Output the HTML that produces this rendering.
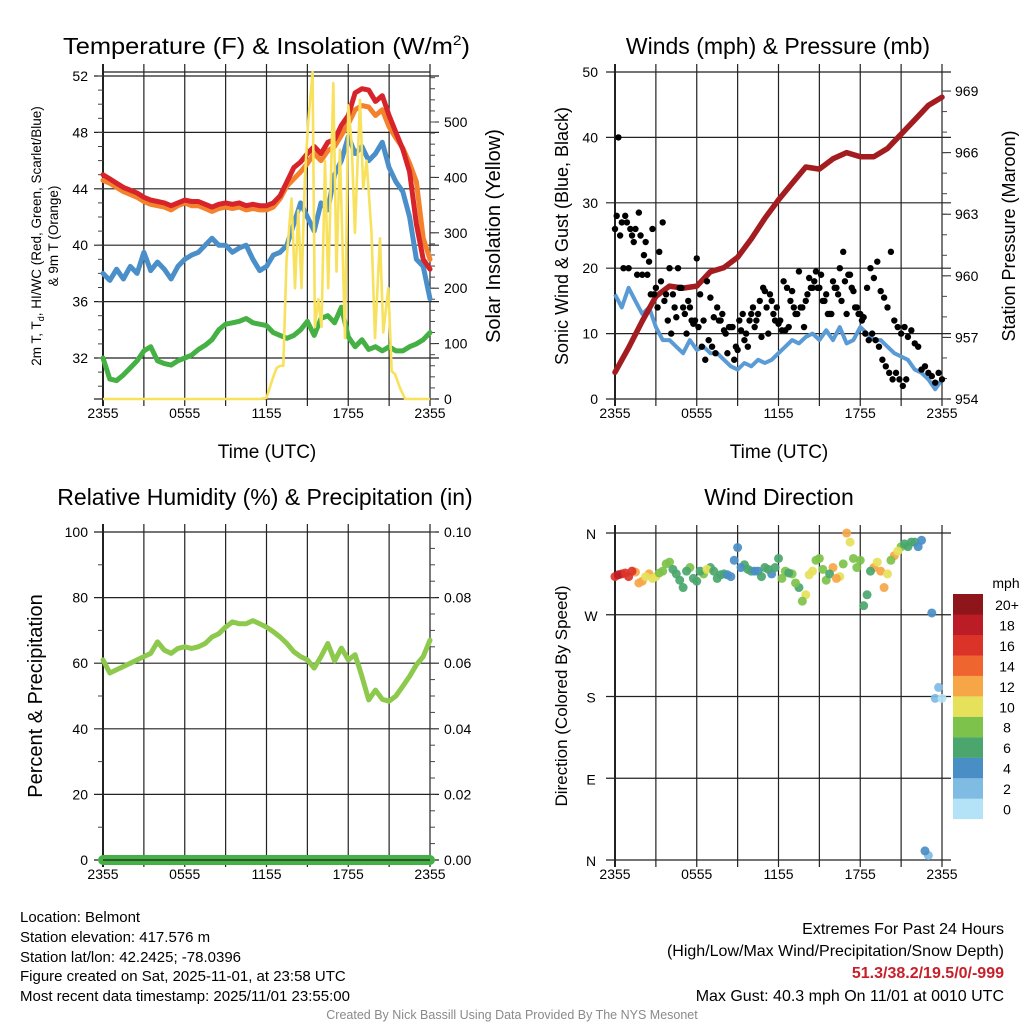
<!DOCTYPE html>
<html><head><meta charset="utf-8"><style>
html,body{margin:0;padding:0;background:#fff;}
svg{display:block;font-family:"Liberation Sans",Arial,sans-serif;}
</style></head><body>
<svg id="fig" width="1024" height="1024" viewBox="0 0 1024 1024" xmlns="http://www.w3.org/2000/svg">
<rect width="1024" height="1024" fill="#fff"/>
<g id="tl"></g>
<g id="tr"></g>
<g id="bl"></g>
<g id="br"></g>

<text x="63" y="54" font-size="23" textLength="407" lengthAdjust="spacingAndGlyphs">Temperature (F) &amp; Insolation (W/m<tspan dy="-9" font-size="14">2</tspan><tspan dy="9">)</tspan></text>
<text x="778" y="54" font-size="23" text-anchor="middle">Winds (mph) &amp; Pressure (mb)</text>
<text x="265" y="505" font-size="23" text-anchor="middle">Relative Humidity (%) &amp; Precipitation (in)</text>
<text x="779" y="505" font-size="23" text-anchor="middle">Wind Direction</text>

<text x="267" y="458" font-size="19" text-anchor="middle">Time (UTC)</text>
<text x="779" y="458" font-size="19" text-anchor="middle">Time (UTC)</text>

<text transform="translate(41,236) rotate(-90)" font-size="13.5" text-anchor="middle">2m T, T<tspan dy="3" font-size="9">d</tspan><tspan dy="-3">, HI/WC (Red, Green, Scarlet/Blue)</tspan></text>
<text transform="translate(58,236) rotate(-90)" font-size="13.5" text-anchor="middle">&amp; 9m T (Orange)</text>
<text transform="translate(500,236) rotate(-90)" font-size="20" text-anchor="middle">Solar Insolation (Yellow)</text>
<text transform="translate(568,236) rotate(-90)" font-size="18" text-anchor="middle">Sonic Wind &amp; Gust (Blue, Black)</text>
<text transform="translate(1015,236) rotate(-90)" font-size="18" text-anchor="middle">Station Pressure (Maroon)</text>
<text transform="translate(42,696) rotate(-90)" font-size="20" text-anchor="middle">Percent &amp; Precipitation</text>
<text transform="translate(567,696) rotate(-90)" font-size="17" text-anchor="middle">Direction (Colored By Speed)</text>

<g font-size="15">
<text x="20" y="922">Location: Belmont</text>
<text x="20" y="942">Station elevation: 417.576 m</text>
<text x="20" y="962">Station lat/lon: 42.2425; -78.0396</text>
<text x="20" y="981">Figure created on Sat, 2025-11-01, at 23:58 UTC</text>
<text x="20" y="1001">Most recent data timestamp: 2025/11/01 23:55:00</text>
</g>
<g font-size="16" text-anchor="end">
<text x="1004" y="934">Extremes For Past 24 Hours</text>
<text x="1004" y="956">(High/Low/Max Wind/Precipitation/Snow Depth)</text>
<text x="1004" y="978" fill="#c8202a" font-weight="bold">51.3/38.2/19.5/0/-999</text>
<text x="1004" y="1001">Max Gust: 40.3 mph On 11/01 at 0010 UTC</text>
</g>
<text x="512" y="1019" font-size="12.5" fill="#8a8a8a" text-anchor="middle">Created By Nick Bassill Using Data Provided By The NYS Mesonet</text>
</svg>
<script>
const xTickLabels=["2355","0555","1155","1755","2355"];
// half-hourly series (t = 0,0.5,...,24 hours since 2355)
const tempRed=[45.0,44.7,44.4,44.1,43.9,43.7,43.4,43.2,43.1,43.0,42.8,43.0,43.2,43.1,43.1,42.9,42.7,42.9,43.0,42.9,43.0,42.8,42.9,42.8,42.8,43.0,43.5,44.5,45.5,45.9,46.5,47.0,46.5,47.3,47.5,48.5,49.2,50.8,51.1,51.0,50.2,50.6,49.2,48.0,46.8,45.2,41.5,39.0,38.3];
const tempOrange=[44.6,44.4,44.1,43.8,43.6,43.4,43.1,42.9,42.8,42.7,42.5,42.8,43.0,42.8,42.8,42.6,42.4,42.6,42.7,42.6,42.7,42.5,42.6,42.5,42.5,42.7,43.3,44.2,44.7,45.2,45.8,46.5,46.0,46.7,47.0,47.8,48.6,49.6,49.9,49.8,49.2,49.6,48.4,47.6,46.9,45.8,44.5,40.5,39.0];
const tempBlue=[38.0,37.5,38.3,37.6,38.5,38.0,39.5,38.2,38.8,38.3,37.6,38.5,39.0,39.3,39.5,40.0,40.5,40.0,40.0,39.5,39.8,40.0,39.0,38.2,38.5,39.3,39.5,40.0,41.5,43.0,42.0,41.0,43.0,42.5,45.0,46.0,47.7,46.5,47.0,46.0,46.5,47.3,45.5,44.5,43.8,42.0,39.0,38.5,36.2];
const dewGreen=[32.0,30.5,30.4,30.8,31.3,31.8,32.5,32.8,31.8,31.6,31.5,31.8,32.0,32.2,32.6,32.9,33.3,34.0,34.4,34.5,34.6,34.8,34.5,34.4,34.3,33.8,33.6,33.4,33.6,34.0,34.6,33.6,34.8,35.0,34.5,35.6,33.5,32.8,33.3,32.6,32.8,32.5,32.8,32.5,32.5,32.8,33.0,33.3,33.8];
const solarHours=[0,11.5,12.0,12.5,12.74,13.0,13.23,13.47,13.84,14.09,14.33,14.57,14.82,15.06,15.38,15.55,15.80,16.04,16.29,16.53,16.90,17.14,17.39,17.76,18.0,18.25,18.49,18.86,19.10,19.35,19.71,19.96,20.33,20.57,20.94,21.19,21.43,21.80,22.17,24];
const solarVals=[0,0,2,40,56,60,60,250,362,200,340,200,400,500,590,130,180,130,430,200,570,230,450,110,530,460,300,540,380,430,300,110,290,120,200,50,45,20,0,0];
const windSpeed=[16,14,17,15,13,14,11,9,9,8,7,9,7.5,8,7,7,6,5,4.5,5.5,5,6,5.5,6,7,8,9,8.5,9.5,10,9,10.5,9,11,8.5,9,11,10,9,9,8,7,6.5,6,4.5,4,3,1.5,3];
const pressure=[955.3,956.5,957.8,959.0,959.5,959.4,959.5,960.2,960.4,960.9,961.8,962.8,963.7,964.5,965.3,965.2,965.7,966.0,965.8,965.8,966.2,966.9,967.6,968.3,968.7];
// gusts every 15 min, and offset set every 15 min starting 7.5 min
const gustA=[26,40,27,28,20,25,26,28.5,19,24,21,26,17,22.5,27,16,20,16,12.5,17,14,10,14,11.5,21.5,16,12,18,15.5,12.5,14,12,10.5,7,11,6,7.5,10.5,9,8,13,11,13,9.5,16.5,10,15,12,11.5,10.5,10.5,11,16.5,13,19.5,14,15,18.5,17,19.5,17,15,16,13,18,17,20,22.5,13,19,16.5,14,13,12.5,17,20,18.5,21,16.5,15.5,14,22.5,12,11,10,11,9.5,10.5,8.5,8,4.5,5,4,3.5,2.5,4,3];
const gustB=[28,25,20,27,26,24,19,25,22,19,16,16,14,18,15,12,10,14,20,17,13,15,12,12,11,8,6,9,8,7,12,13,10,11,11,8,12,13,10,12,14,12,15,17,14,16,13,14,12,18,17,15,14,13,14,11,16,17,18,17,19,15,13,13,17,16,15,18,19,17,14,13,12,10,9,10,9,8,6,5,4,3,4,3,2,3];
const humidity=[61,57,58,59,60,61,62,63,66.5,64,63,64.5,65,64.5,65,66,68,69,71,72.6,72,72,73,72,71,69.6,68,66,63.5,62,61,58.5,62,66,60.7,64.6,61,62.6,56,48.8,51.8,49,48.4,50,53,56,59.5,62,67,72,79,80,85].slice(0,49);
const precip=[0,0,0,0,0,0,0,0,0,0,0,0,0,0,0,0,0,0,0,0,0,0,0,0,0];
// wind direction: two samples per half hour (t=0.5i and 0.5i+0.25)
const dirA=[312,315,312,317,307,315,312,318,328,315,300,322,307,315,322,310,315,312,344,325,318,318,322,315,332,318,315,300,292,318,332,308,322,312,360,332,330,292,322,318,315,335,345,345,350,352,5,178,178];
const dirB=[314,316,318,305,312,310,316,326,320,308,318,310,318,320,318,314,314,330,322,320,318,312,320,322,310,316,305,285,314,330,320,315,310,326,350,322,280,318,328,300,330,340,348,350,345,10,272,190];
const spdA=[17,16,17,13,13,12,10,8,8,7,6,8,6,8,7,6,6,5,4,7,6,4,6,5,7,8,8,7,10,10,8,8,12,10,12,8,8,6,12,12,10,12,8,7,6,4,3,2,1];
const spdB=[18,17,16,12,11,10,9,8,7,7,6,7,7,10,6,6,5,4,5,6,5,6,7,6,8,7,9,8,11,9,8,7,13,9,11,9,6,7,11,13,9,10,7,6,5,4,4,2];
const cbColors=["#b4e2f6","#80bbe4","#4a8ec6","#4aa66c","#7dc24a","#e6e15a","#f6a646","#ef6530","#dc3328","#bc1c25","#8e1519"];
const cbLabels=["0","2","4","6","8","10","12","14","16","18","20+"];

const NS="http://www.w3.org/2000/svg";
function mk(parent,tag,attrs){const e=document.createElementNS(NS,tag);for(const k in attrs)e.setAttribute(k,attrs[k]);parent.appendChild(e);return e;}
function txt(parent,x,y,s,size,anchor){const e=mk(parent,"text",{x:x,y:y,"font-size":size,"text-anchor":anchor||"middle"});e.textContent=s;return e;}

function frame(g,x0,x1,y0,y1,hLines){
  // vertical grid every 3 hours
  for(let i=0;i<=8;i++){const x=x0+i*(x1-x0)/8;
    const l=mk(g,"line",{x1:x,x2:x,y1:y0-8,y2:y1+7,stroke:"#222","stroke-width":i==0?2:1.2});
    
    }
  hLines.forEach(y=>{const l=mk(g,"line",{x1:x0-9,x2:x1+9,y1:y,y2:y,stroke:"#222","stroke-width":1.2});
    
    });
  xTickLabels.forEach((s,i)=>{const t=txt(g,x0+i*(x1-x0)/4,y1+19,s,14);
    
    });
}
function minor(g,x,ys,dir){ys.forEach(y=>{const l=mk(g,"line",{x1:x,x2:x+dir*5,y1:y,y2:y,stroke:"#444","stroke-width":1});
  
  });}
function pathFrom(xs,ys){return xs.map((x,i)=>(i?"L":"M")+x.toFixed(1)+","+ys[i].toFixed(1)).join("");}
const halfHours=tempRed.map((_,i)=>i*0.5);

// ---------- Top-left ----------
(function(){
  const g=document.getElementById("tl");
  const X=h=>103+h*13.625, Ty=v=>76+(52-v)*14.1, Sy=v=>399-v*0.554;
  const hl=[]; for(let v=32;v<=52;v+=4)hl.push(Ty(v));
  mk(g,"line",{x1:103,x2:430,y1:72,y2:72,stroke:"#222","stroke-width":1.2});
  frame(g,103,430,72,399,hl.concat([399]));
  for(let v=32;v<=52;v+=4){const t=txt(g,88,Ty(v)+5,String(v),14,"end");
    
    }
  const mt=[];for(let v=30;v<=52;v++)mt.push(Ty(v));minor(g,103,mt.filter(y=>y<=399),-1);
  for(let v=0;v<=500;v+=100){const t=txt(g,444,Sy(v)+5,String(v),14,"start");
    
    
    mk(g,"line",{x1:430,x2:439,y1:Sy(v),y2:Sy(v),stroke:"#222"});}
  const ms=[];for(let v=0;v<=580;v+=20)ms.push(Sy(v));minor(g,430,ms,1);
  const c=mk(g,"g",{"clip-path":"none"});
  const series=[[dewGreen,"#45b043","dewpoint-line"],[tempBlue,"#4a8fc9","heat-index-wind-chill-line"],[tempOrange,"#f4812c","9m-temperature-line"],[tempRed,"#d6242a","2m-temperature-line"]];
  series.forEach(s=>{const p=mk(c,"path",{d:pathFrom(halfHours.map(X),s[0].map(Ty)),fill:"none",stroke:s[1],"stroke-width":5,"stroke-linejoin":"round","stroke-linecap":"round"});
    
    });
  const sp=mk(c,"path",{d:pathFrom(solarHours.map(X),solarVals.map(Sy)),fill:"none",stroke:"#f8e15c","stroke-width":2.6,"stroke-linejoin":"round"});
  
  
})();

// ---------- Top-right ----------
(function(){
  const g=document.getElementById("tr");
  const X=h=>615+h*13.625, Wy=v=>399-v*6.54, Py=v=>399-(v-954)*20.53;
  const hl=[];for(let v=0;v<=50;v+=10)hl.push(Wy(v));
  frame(g,615,942,72,399,hl);
  for(let v=0;v<=50;v+=10){const t=txt(g,598,Wy(v)+5,String(v),14,"end");
    
    }
  for(let v=954;v<=969;v+=3){const t=txt(g,955,Py(v)+5,String(v),14,"start");
    
    
    mk(g,"line",{x1:942,x2:951,y1:Py(v),y2:Py(v),stroke:"#222"});}
  const mp=[];for(let v=954;v<=969;v++)mp.push(Py(v));minor(g,942,mp,1);
  const wp=mk(g,"path",{d:pathFrom(halfHours.map(X),windSpeed.map(Wy)),fill:"none",stroke:"#5b9bd5","stroke-width":4,"stroke-linejoin":"round"});
  
  
  const ph=pressure.map((_,i)=>i);
  const pp=mk(g,"path",{d:pathFrom(ph.map(X),pressure.map(Py)),fill:"none",stroke:"#a31c1f","stroke-width":5.5,"stroke-linejoin":"round","stroke-linecap":"round"});
  
  
  gustA.forEach((v,i)=>{const d=mk(g,"circle",{cx:X(i*0.25),cy:Wy(v),r:3.2,fill:"#000"});
    
    });
  gustB.forEach((v,i)=>{const d=mk(g,"circle",{cx:X(0.125+i*0.25),cy:Wy(v),r:3.2,fill:"#000"});
    
    });
})();

// ---------- Bottom-left ----------
(function(){
  const g=document.getElementById("bl");
  const X=h=>103+h*13.625, Ry=v=>860-v*3.28, Pry=v=>860-v*3280;
  const hl=[];for(let v=0;v<=100;v+=20)hl.push(Ry(v));
  frame(g,103,430,532,860,hl);
  for(let v=0;v<=100;v+=20){const t=txt(g,88,Ry(v)+5,String(v),14,"end");
    
    
    const t2=txt(g,444,Ry(v)+5,(v/1000).toFixed(2),14,"start");
    
    }
  const ml=[];for(let v=10;v<=90;v+=20)ml.push(Ry(v));minor(g,103,ml,-1);
  const mr=[];for(let v=5;v<=100;v+=5)mr.push(Ry(v));minor(g,430,mr,1);
  const pp=mk(g,"path",{d:pathFrom(precip.map((_,i)=>X(i)),precip.map(Pry)),fill:"none",stroke:"#45b043","stroke-width":10,"stroke-linecap":"round"});
  
  
  mk(g,"line",{x1:103,x2:430,y1:860,y2:860,stroke:"#222","stroke-width":1.2});
  const rp=mk(g,"path",{d:pathFrom(halfHours.map(X),humidity.map(Ry)),fill:"none",stroke:"#8cc94c","stroke-width":5,"stroke-linejoin":"round","stroke-linecap":"round"});
  
  
})();

// ---------- Bottom-right ----------
(function(){
  const g=document.getElementById("br");
  const X=h=>615+h*13.625, Dy=d=>860-d*0.9083;
  const dirLabels=["N","E","S","W","N"];
  const hl=[];for(let d=0;d<=360;d+=90)hl.push(Dy(d));
  frame(g,615,942,533,860,hl);
  dirLabels.forEach((s,i)=>{const t=txt(g,591,Dy(i*90)+6,s,14,"middle");
    
    });
  const col=s=>cbColors[Math.min(10,Math.floor(s/2))];
  dirA.forEach((d,i)=>{const c=mk(g,"circle",{cx:X(i*0.5),cy:Dy(d),r:4.5,fill:col(spdA[i]),"fill-opacity":0.92});
    
    });
  dirB.forEach((d,i)=>{const c=mk(g,"circle",{cx:X(0.25+i*0.5),cy:Dy(d),r:4.5,fill:col(spdB[i]),"fill-opacity":0.92});
    
    });
  const lg=mk(g,"g",{});
  
  
  const t=txt(lg,1006,588,"mph",14,"middle");
  
  
  cbColors.forEach((c,i)=>{const y=798.5-i*20.45;
    const r=mk(lg,"rect",{x:953,y:y,width:30,height:20.6,fill:c});
    
    
    const l=txt(lg,1007,y+16,cbLabels[i],14,"middle");
    
    });
})();
</script>
</body></html>
